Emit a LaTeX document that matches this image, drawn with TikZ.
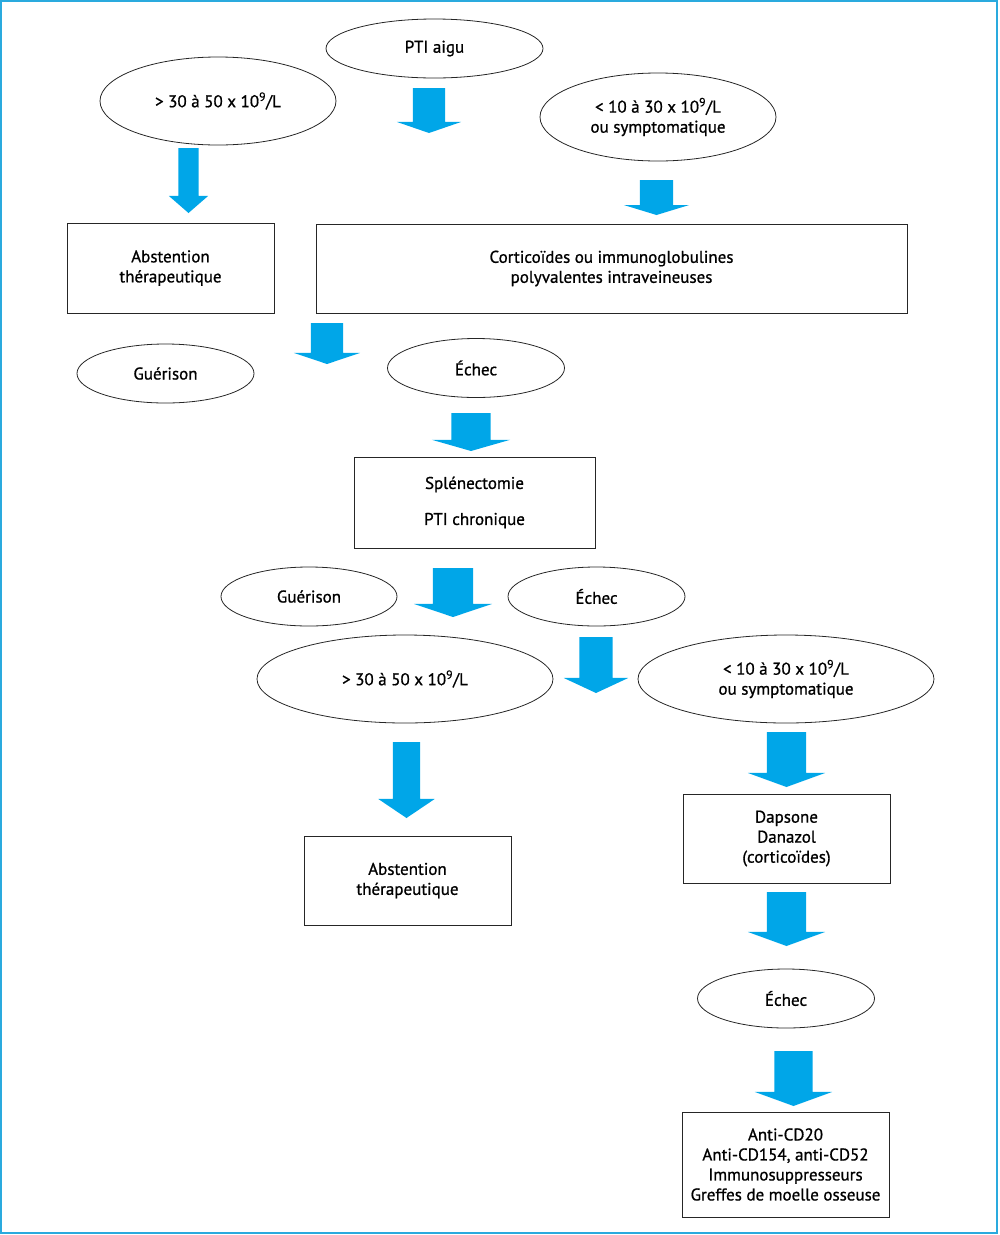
\documentclass[tikz,border=0pt]{standalone}
\usepackage{fontspec}
\setmainfont{PT Sans}[BoldFont={PT Sans}, BoldFeatures={FakeBold=0.9}]
\usetikzlibrary{shapes.geometric,shapes.arrows}
\definecolor{ArrowBlue}{rgb}{0.0000000,0.6509804,0.9098039}
\definecolor{FrameBlue}{rgb}{0.1647059,0.6666667,0.8705882}
\tikzset{
  every node/.style={font=\fontsize{17}{20}\selectfont\bfseries},
  oval/.style={ellipse, draw=black!85, line width=0.8pt, align=center, inner sep=0pt},
  box/.style={rectangle, draw=black!85, line width=0.9pt, align=center, inner sep=0pt},
  bigarrow/.style n args={4}{single arrow, fill=ArrowBlue, draw=none, rotate=-90, anchor=tip,
    inner xsep=0pt, inner ysep=#2, outer sep=0pt, minimum height=#1,
    single arrow head extend=#3, single arrow tip angle=#4, single arrow head indent=0pt},
}

\begin{document}
\begin{tikzpicture}[x=1pt, y=-1pt]
  \useasboundingbox (0,0) rectangle (1000,1235);
  \draw[FrameBlue, line width=2pt] (1,1) rectangle (997,1233);

  \node[oval, minimum width=217, minimum height=59] (aigu) at (434.5,48.5) {PTI aigu};
  \node[oval, minimum width=236, minimum height=88] (sup1) at (218,101) {> 30 à 50 x 10\textsuperscript{9}/L};
  \node[oval, minimum width=236, minimum height=88] (inf1) at (658,117) {< 10 à 30 x 10\textsuperscript{9}/L\\ou symptomatique};
  \node[bigarrow={45}{16}{16}{142}] (f1) at (429,133) {};
  \node[bigarrow={65}{10}{9.5}{98}] (f2) at (188.5,213) {};
  \node[bigarrow={35}{16.5}{16}{146}] (f3) at (656.5,215) {};

  \node[box, minimum width=207, minimum height=90] (abst1) at (170.5,268) {Abstention\\thérapeutique};
  \node[box, minimum width=591, minimum height=89] (cortic) at (611.5,268.5) {Corticoïdes ou immunoglobulines\\polyvalentes intraveineuses};

  \node[bigarrow={41}{16}{17}{143}] (f4) at (327,364) {};
  \node[oval, minimum width=177, minimum height=59] (guer1) at (165.5,373.5) {Guérison};
  \node[oval, minimum width=177, minimum height=59] (echec1) at (476,368) {Échec};
  \node[bigarrow={38}{19.5}{19.5}{148}] (f5) at (471,451) {};
  \node[box, minimum width=241, minimum height=91] (splen) at (474.5,502.5) {Splénectomie\\[16pt]PTI chronique};

  \node[oval, minimum width=176, minimum height=59] (guer2) at (309,596.5) {Guérison};
  \node[bigarrow={49}{20}{19}{143}] (f6) at (453,617) {};
  \node[oval, minimum width=177, minimum height=59] (echec2) at (596.5,596.5) {Échec};
  \node[oval, minimum width=296, minimum height=88] (sup2) at (405,679) {> 30 à 50 x 10\textsuperscript{9}/L};
  \node[bigarrow={56}{16.5}{15.5}{130}] (f7) at (596,693) {};
  \node[oval, minimum width=296, minimum height=88] (inf2) at (786,679) {< 10 à 30 x 10\textsuperscript{9}/L\\ou symptomatique};

  \node[bigarrow={76}{13.5}{14.5}{112}] (f8) at (406.5,818) {};
  \node[box, minimum width=207, minimum height=89] (abst2) at (407.5,880.5) {Abstention\\thérapeutique};
  \node[bigarrow={55}{19.5}{19}{140}] (f9) at (786.5,787) {};
  \node[box, minimum width=207, minimum height=89] (dapsone) at (786.5,838.5) {Dapsone\\Danazol\\(corticoïdes)};
  \node[bigarrow={54}{19.5}{19}{140}] (f10) at (786.5,946) {};
  \node[oval, minimum width=177, minimum height=59] (echec3) at (786,998.5) {Échec};
  \node[bigarrow={55}{19}{19.5}{140}] (f11) at (793.5,1106) {};
  \node[box, minimum width=207, minimum height=105] (anti) at (785.5,1164.5) {Anti-CD20\\Anti-CD154, anti-CD52\\Immunosuppresseurs\\Greffes de moelle osseuse};
\end{tikzpicture}
\end{document}
